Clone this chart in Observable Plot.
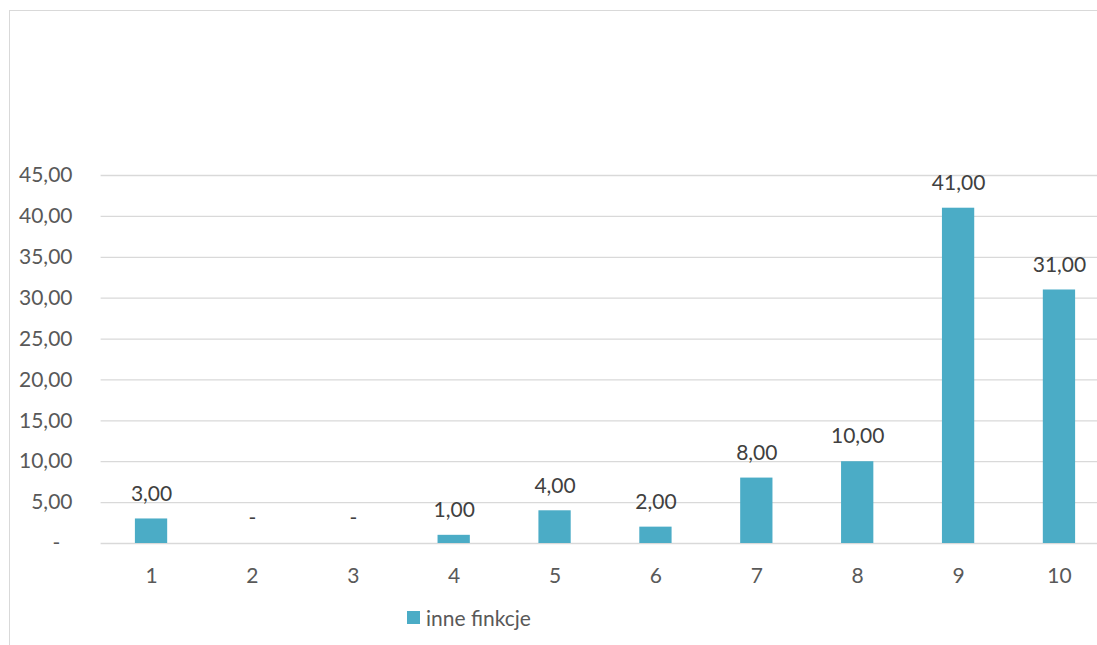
<!DOCTYPE html>
<html>
<head>
<meta charset="utf-8">
<script src="https://cdn.jsdelivr.net/npm/d3@7"></script>
<script src="https://cdn.jsdelivr.net/npm/@observablehq/plot@0.6"></script>
<style>
  html, body { margin: 0; padding: 0; background: #fff; overflow: hidden; }
  #page { position: relative; width: 1097px; height: 645px; overflow: hidden; }
  #frame { position: absolute; left: 9px; top: 10px; width: 1200px; height: 700px; border: 1px solid #d9d9d9; box-sizing: border-box; }
  #chart { position: absolute; left: 0; top: 0; width: 1120px; }
  #chart svg { max-width: none !important; display: block; }
  #legend { position: absolute; left: 407px; top: 605px; font-family: Lato, sans-serif; font-size: 21px; color: #595959; display: flex; align-items: center; white-space: nowrap; }
  #legend .sw { width: 13px; height: 13px; background: #4BACC6; margin-right: 6px; }
</style>
</head>
<body>
<div id="page">
<div id="frame"></div>
<div id="chart"></div>
<div id="legend"><span class="sw"></span><span>inne finkcje</span></div>
</div>
<script>
const categories = ["1", "2", "3", "4", "5", "6", "7", "8", "9", "10"];
const values = [3, 0, 0, 1, 4, 2, 8, 10, 41, 31];
const yTicks = [0, 5, 10, 15, 20, 25, 30, 35, 40, 45];
const seriesName = "inne finkcje";

const data = categories.map((c, i) => ({category: c, value: values[i]}));
const fmt = v => v === 0 ? "-" : v.toFixed(2).replace(".", ",");

const chart = Plot.plot({
  width: 1120,
  height: 590,
  marginLeft: 100.6,
  marginRight: 10.6,
  marginTop: 175,
  marginBottom: 47,
  style: {fontFamily: "Lato, sans-serif", background: "transparent", maxWidth: "none"},
  x: {domain: categories, paddingInner: 0.68, paddingOuter: 0.34, round: false, label: null},
  y: {domain: [0, 45], label: null},
  marks: [
    Plot.gridY(yTicks, {stroke: "#d9d9d9", strokeOpacity: 1, strokeWidth: 1.3}),
    Plot.barY(data, {x: "category", y: "value", fill: "#4BACC6"}),
    Plot.text(data, {x: "category", y: "value", text: d => fmt(d.value), dy: -25, fontSize: 21, fill: "#404040", lineAnchor: "middle"}),
    Plot.axisX({tickSize: 0, tickPadding: 25, fontSize: 21, color: "#595959", label: null}),
    Plot.axisY(yTicks, {tickSize: 0, tickPadding: 28.6, fontSize: 21, color: "#595959", label: null,
      tickFormat: v => v === 0 ? "-\u2007" : fmt(v)})
  ]
});
document.getElementById("chart").appendChild(chart);
document.querySelector("#legend span:last-child").textContent = seriesName;
</script>
</body>
</html>
